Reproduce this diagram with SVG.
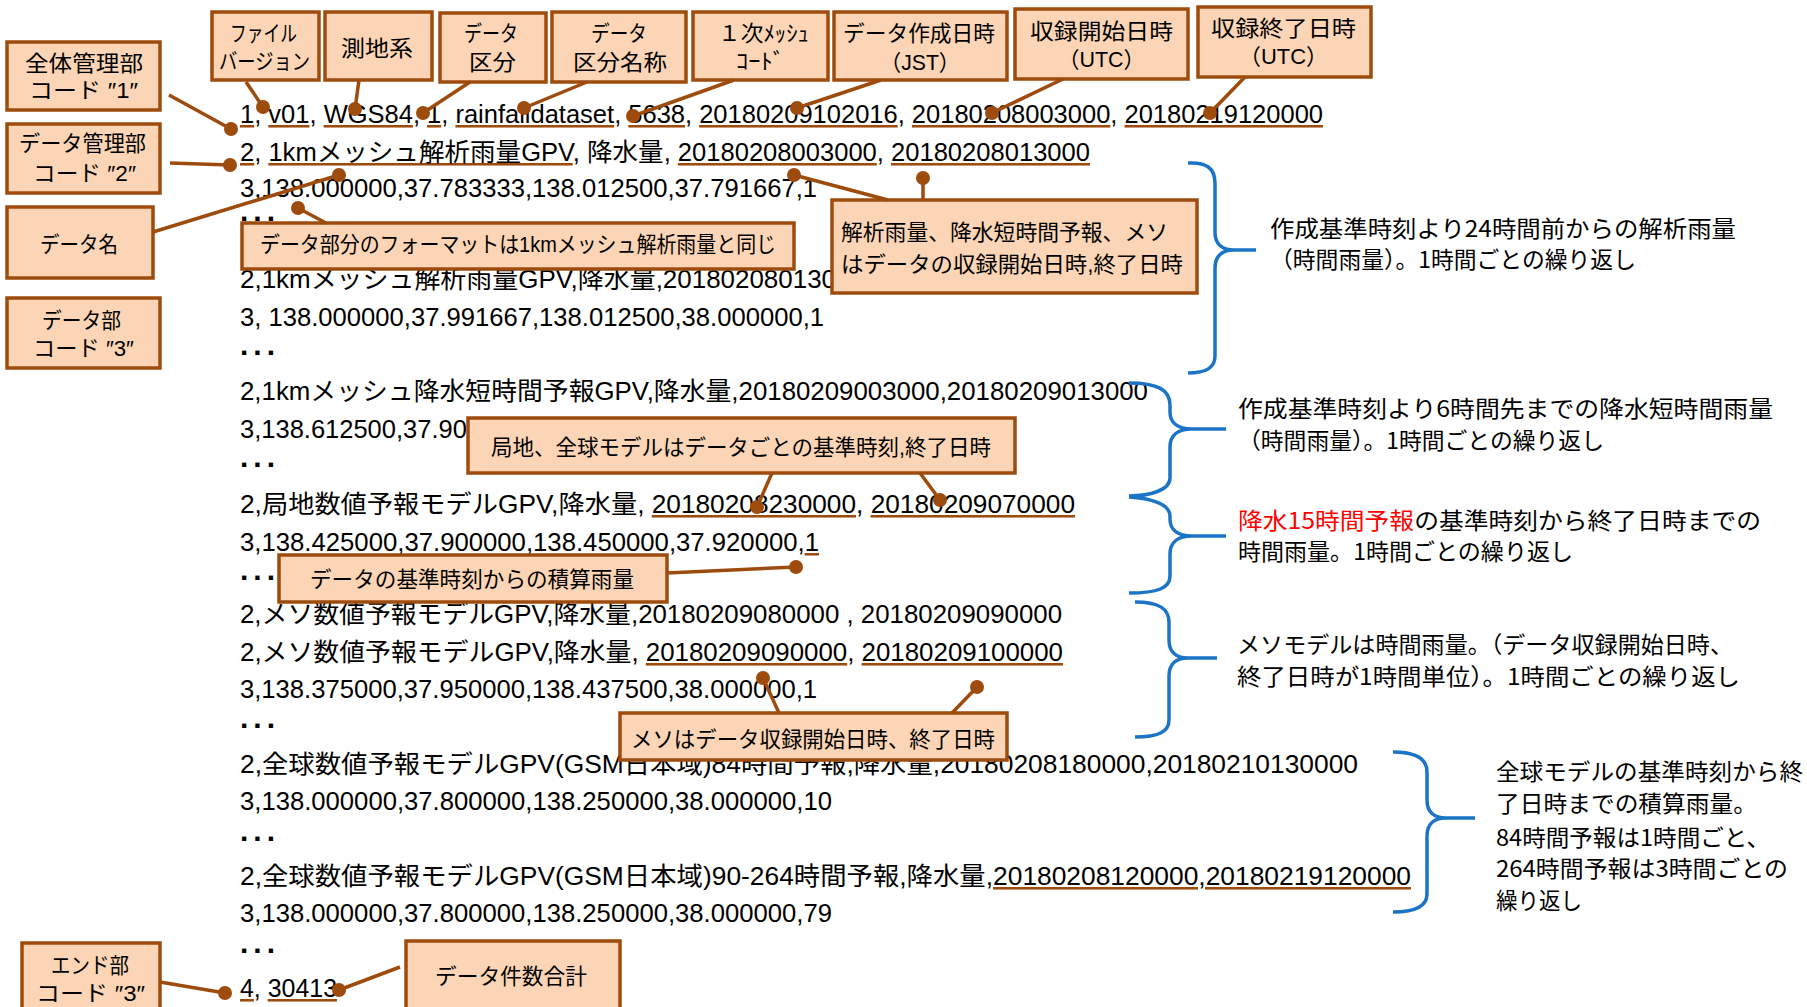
<svg xmlns="http://www.w3.org/2000/svg" width="1807" height="1007" viewBox="0 0 1807 1007">
<style>
.code{font-family:"Liberation Sans","Noto Sans CJK JP",sans-serif;font-size:25.5px;fill:#000}
.u{fill:#9E4B0E;text-decoration:underline}
.u>tspan{fill:#000}
.dots{font-family:"Liberation Sans",sans-serif;font-weight:bold;font-size:30px;letter-spacing:5px;fill:#000}
.note{font-family:"Noto Sans CJK JP",sans-serif;font-size:23px;fill:#000}
.red{fill:#FF0000}
.box{fill:#FBD5B5;stroke:#9E4B0E;stroke-width:3.5}
.bt{font-family:"Liberation Sans","Noto Sans CJK JP",sans-serif;font-size:22px;fill:#000}
.con line{stroke:#9E4B0E;stroke-width:3.5}
.con circle{fill:#9E4B0E}
.brace{fill:none;stroke:#1B74C6;stroke-width:3.5}
</style>

<g id="code-lines">
<text class="code" x="240" y="123" textLength="1083" lengthAdjust="spacingAndGlyphs"><tspan class="u"><tspan>1</tspan></tspan>, <tspan class="u"><tspan>v01</tspan></tspan>, <tspan class="u"><tspan>WGS84</tspan></tspan>, <tspan class="u"><tspan>1</tspan></tspan>, <tspan class="u"><tspan>rainfalldataset</tspan></tspan>, <tspan class="u"><tspan>5638</tspan></tspan>, <tspan class="u"><tspan>20180209102016</tspan></tspan>, <tspan class="u"><tspan>20180208003000</tspan></tspan>, <tspan class="u"><tspan>20180219120000</tspan></tspan></text>
<text class="code" x="240" y="161" textLength="850" lengthAdjust="spacingAndGlyphs"><tspan class="u"><tspan>2</tspan></tspan>, <tspan class="u"><tspan>1kmメッシュ解析雨量GPV</tspan></tspan>, 降水量, <tspan class="u"><tspan>20180208003000</tspan></tspan>, <tspan class="u"><tspan>20180208013000</tspan></tspan></text>
<text class="code" x="240" y="197" textLength="577" lengthAdjust="spacingAndGlyphs">3,138.000000,37.783333,138.012500,37.791667,1</text>
<text class="dots" x="240" y="221">...</text>
<text class="code" x="240" y="288" textLength="596" lengthAdjust="spacingAndGlyphs">2,1kmメッシュ解析雨量GPV,降水量,201802080130</text>
<text class="code" x="240" y="326" textLength="584" lengthAdjust="spacingAndGlyphs">3, 138.000000,37.991667,138.012500,38.000000,1</text>
<text class="dots" x="240" y="355">...</text>
<text class="code" x="240" y="400" textLength="908" lengthAdjust="spacingAndGlyphs">2,1kmメッシュ降水短時間予報GPV,降水量,20180209003000,20180209013000</text>
<text class="code" x="240" y="438">3,138.612500,37.90</text>
<text class="dots" x="240" y="467">...</text>
<text class="code" x="240" y="513" textLength="835" lengthAdjust="spacingAndGlyphs">2,局地数値予報モデルGPV,降水量, <tspan class="u"><tspan>20180208230000</tspan></tspan>, <tspan class="u"><tspan>20180209070000</tspan></tspan></text>
<text class="code" x="240" y="551" textLength="579" lengthAdjust="spacingAndGlyphs">3,138.425000,37.900000,138.450000,37.920000,<tspan class="u"><tspan>1</tspan></tspan></text>
<text class="dots" x="240" y="580">...</text>
<text class="code" x="240" y="623" textLength="822" lengthAdjust="spacingAndGlyphs">2,メソ数値予報モデルGPV,降水量,20180209080000 , 20180209090000</text>
<text class="code" x="240" y="661" textLength="823" lengthAdjust="spacingAndGlyphs">2,メソ数値予報モデルGPV,降水量, <tspan class="u"><tspan>20180209090000</tspan></tspan>, <tspan class="u"><tspan>20180209100000</tspan></tspan></text>
<text class="code" x="240" y="698" textLength="577" lengthAdjust="spacingAndGlyphs">3,138.375000,37.950000,138.437500,38.000000,1</text>
<text class="dots" x="240" y="728">...</text>
<text class="code" x="240" y="773" textLength="1118" lengthAdjust="spacingAndGlyphs">2,全球数値予報モデルGPV(GSM日本域)84時間予報,降水量,20180208180000,20180210130000</text>
<text class="code" x="240" y="810" textLength="592" lengthAdjust="spacingAndGlyphs">3,138.000000,37.800000,138.250000,38.000000,10</text>
<text class="dots" x="240" y="841">...</text>
<text class="code" x="240" y="885" textLength="1171" lengthAdjust="spacingAndGlyphs">2,全球数値予報モデルGPV(GSM日本域)90-264時間予報,降水量,<tspan class="u"><tspan>20180208120000,20180219120000</tspan></tspan></text>
<text class="code" x="240" y="922" textLength="592" lengthAdjust="spacingAndGlyphs">3,138.000000,37.800000,138.250000,38.000000,79</text>
<text class="dots" x="240" y="953">...</text>
<text class="code" x="240" y="997" textLength="97" lengthAdjust="spacingAndGlyphs"><tspan class="u"><tspan>4</tspan></tspan>, <tspan class="u"><tspan>30413</tspan></tspan></text>
</g>

<g id="braces">
<path class="brace" d="M1188,163 C1206,162 1215,168 1215,183 L1215,232 C1215,244 1222,250 1234,250 L1256,250 M1234,250 C1222,250 1215,256 1215,268 L1215,356 C1215,368 1206,373 1188,373"/>
<path class="brace" d="M1129,383 C1158,383 1170,390 1170,405 L1170,412 C1170,423 1178,429 1192,429 L1226,429 M1192,429 C1178,429 1170,435 1170,447 L1170,478 C1170,490 1150,496 1129,496"/>
<path class="brace" d="M1129,497 C1150,498 1170,504 1170,516 L1170,519 C1170,530 1178,536 1192,536 L1226,536 M1192,536 C1178,536 1170,542 1170,554 L1170,576 C1170,588 1158,593 1129,593"/>
<path class="brace" d="M1135,602 C1158,602 1169,608 1169,622 L1169,640 C1169,652 1176,658 1188,658 L1217,658 M1188,658 C1176,658 1169,664 1169,676 L1169,720 C1169,732 1158,737 1135,737"/>
<path class="brace" d="M1393,752 C1415,752 1427,758 1427,772 L1427,800 C1427,812 1434,818 1446,818 L1475,818 M1446,818 C1434,818 1427,824 1427,836 L1427,894 C1427,906 1415,912 1393,912"/>
</g>

<g id="notes">
<text class="note" x="1270" y="237" textLength="466" lengthAdjust="spacingAndGlyphs">作成基準時刻より24時間前からの解析雨量</text>
<text class="note" x="1270" y="268" textLength="366" lengthAdjust="spacingAndGlyphs">（時間雨量）。1時間ごとの繰り返し</text>
<text class="note" x="1238" y="417" textLength="535" lengthAdjust="spacingAndGlyphs">作成基準時刻より6時間先までの降水短時間雨量</text>
<text class="note" x="1238" y="449" textLength="366" lengthAdjust="spacingAndGlyphs">（時間雨量）。1時間ごとの繰り返し</text>
<text class="note" x="1238" y="529" textLength="523" lengthAdjust="spacingAndGlyphs"><tspan class="red">降水15時間予報</tspan>の基準時刻から終了日時までの</text>
<text class="note" x="1238" y="560" textLength="335" lengthAdjust="spacingAndGlyphs">時間雨量。1時間ごとの繰り返し</text>
<text class="note" x="1237" y="653" textLength="496" lengthAdjust="spacingAndGlyphs">メソモデルは時間雨量。（データ収録開始日時、</text>
<text class="note" x="1237" y="685" textLength="503" lengthAdjust="spacingAndGlyphs">終了日時が1時間単位）。1時間ごとの繰り返し</text>
<text class="note" x="1496" y="780" textLength="307" lengthAdjust="spacingAndGlyphs">全球モデルの基準時刻から終</text>
<text class="note" x="1496" y="812" textLength="261" lengthAdjust="spacingAndGlyphs">了日時までの積算雨量。</text>
<text class="note" x="1496" y="846" textLength="274" lengthAdjust="spacingAndGlyphs">84時間予報は1時間ごと、</text>
<text class="note" x="1496" y="877" textLength="292" lengthAdjust="spacingAndGlyphs">264時間予報は3時間ごとの</text>
<text class="note" x="1496" y="909" textLength="86" lengthAdjust="spacingAndGlyphs">繰り返し</text>
</g>

<g id="node-zentai">
<rect class="box" x="7" y="42" width="153" height="68"/>
<text class="bt" x="25" y="71" textLength="118" lengthAdjust="spacingAndGlyphs">全体管理部</text>
<text class="bt" x="29" y="98" textLength="109" lengthAdjust="spacingAndGlyphs">コード ″1″</text>
</g>
<g id="node-datakanri">
<rect class="box" x="7" y="124" width="153" height="69"/>
<text class="bt" x="19" y="151" textLength="127" lengthAdjust="spacingAndGlyphs">データ管理部</text>
<text class="bt" x="33" y="181" textLength="103" lengthAdjust="spacingAndGlyphs">コード ″2″</text>
</g>
<g id="node-datamei">
<rect class="box" x="7" y="207" width="146" height="71"/>
<text class="bt" x="40" y="252" textLength="78" lengthAdjust="spacingAndGlyphs">データ名</text>
</g>
<g id="node-databu">
<rect class="box" x="7" y="298" width="153" height="70"/>
<text class="bt" x="42" y="328" textLength="79" lengthAdjust="spacingAndGlyphs">データ部</text>
<text class="bt" x="33" y="356" textLength="101" lengthAdjust="spacingAndGlyphs">コード ″3″</text>
</g>
<g id="node-endbu">
<rect class="box" x="22" y="943" width="138" height="72"/>
<text class="bt" x="51" y="973" textLength="78" lengthAdjust="spacingAndGlyphs">エンド部</text>
<text class="bt" x="36" y="1001" textLength="109" lengthAdjust="spacingAndGlyphs">コード ″3″</text>
</g>
<g id="node-version">
<rect class="box" x="212" y="12" width="107" height="68"/>
<text class="bt" x="230" y="41" textLength="67" lengthAdjust="spacingAndGlyphs">ファイル</text>
<text class="bt" x="219" y="69" textLength="91" lengthAdjust="spacingAndGlyphs">バージョン</text>
</g>
<g id="node-sokuchi">
<rect class="box" x="325" y="12" width="107" height="68"/>
<text class="bt" x="341" y="56" textLength="72" lengthAdjust="spacingAndGlyphs">測地系</text>
</g>
<g id="node-kubun">
<rect class="box" x="440" y="13" width="106" height="69"/>
<text class="bt" x="464" y="41" textLength="54" lengthAdjust="spacingAndGlyphs">データ</text>
<text class="bt" x="469" y="70" textLength="47" lengthAdjust="spacingAndGlyphs">区分</text>
</g>
<g id="node-kubunmei">
<rect class="box" x="552" y="12" width="134" height="70"/>
<text class="bt" x="591" y="41" textLength="56" lengthAdjust="spacingAndGlyphs">データ</text>
<text class="bt" x="573" y="70" textLength="94" lengthAdjust="spacingAndGlyphs">区分名称</text>
</g>
<g id="node-mesh">
<rect class="box" x="693" y="12" width="135" height="68"/>
<text class="bt" x="718" y="41" textLength="91" lengthAdjust="spacingAndGlyphs">１次ﾒｯｼｭ</text>
<text class="bt" x="736" y="69" textLength="49" lengthAdjust="spacingAndGlyphs">ｺｰﾄﾞ</text>
</g>
<g id="node-sakusei">
<rect class="box" x="834" y="12" width="173" height="68"/>
<text class="bt" x="843" y="41" textLength="152" lengthAdjust="spacingAndGlyphs">データ作成日時</text>
<text class="bt" x="880" y="70" textLength="80" lengthAdjust="spacingAndGlyphs">（JST）</text>
</g>
<g id="node-kaishi">
<rect class="box" x="1015" y="9" width="173" height="70"/>
<text class="bt" x="1030" y="39" textLength="143" lengthAdjust="spacingAndGlyphs">収録開始日時</text>
<text class="bt" x="1058" y="67" textLength="87" lengthAdjust="spacingAndGlyphs">（UTC）</text>
</g>
<g id="node-shuryo">
<rect class="box" x="1198" y="7" width="173" height="70"/>
<text class="bt" x="1211" y="36" textLength="145" lengthAdjust="spacingAndGlyphs">収録終了日時</text>
<text class="bt" x="1239" y="64" textLength="89" lengthAdjust="spacingAndGlyphs">（UTC）</text>
</g>
<g id="node-format">
<rect class="box" x="242" y="223" width="552" height="46"/>
<text class="bt" x="260" y="252" textLength="516" lengthAdjust="spacingAndGlyphs">データ部分のフォーマットは1kmメッシュ解析雨量と同じ</text>
</g>
<g id="node-kaiseki">
<rect class="box" x="832" y="200" width="365" height="93"/>
<text class="bt" x="841" y="240" textLength="327" lengthAdjust="spacingAndGlyphs">解析雨量、降水短時間予報、メソ</text>
<text class="bt" x="841" y="272" textLength="342" lengthAdjust="spacingAndGlyphs">はデータの収録開始日時,終了日時</text>
</g>
<g id="node-kyokuchi">
<rect class="box" x="468" y="418" width="547" height="55"/>
<text class="bt" x="491" y="455" textLength="500" lengthAdjust="spacingAndGlyphs">局地、全球モデルはデータごとの基準時刻,終了日時</text>
</g>
<g id="node-sekisan">
<rect class="box" x="279" y="555" width="388" height="47"/>
<text class="bt" x="310" y="587" textLength="324" lengthAdjust="spacingAndGlyphs">データの基準時刻からの積算雨量</text>
</g>
<g id="node-meso">
<rect class="box" x="620" y="713" width="387" height="47"/>
<text class="bt" x="631" y="747" textLength="364" lengthAdjust="spacingAndGlyphs">メソはデータ収録開始日時、終了日時</text>
</g>
<g id="node-kensu">
<rect class="box" x="406" y="941" width="214" height="74"/>
<text class="bt" x="435" y="984" textLength="152" lengthAdjust="spacingAndGlyphs">データ件数合計</text>
</g>

<g id="connectors" class="con">
<line x1="169" y1="95" x2="231" y2="129"/><circle cx="231" cy="129" r="7"/>
<line x1="170" y1="163" x2="230" y2="165"/><circle cx="230" cy="165" r="7"/>
<line x1="153" y1="232" x2="339" y2="175"/><circle cx="339" cy="175" r="7"/>
<line x1="246" y1="82" x2="263" y2="107"/><circle cx="263" cy="107" r="7"/>
<line x1="359" y1="80" x2="355" y2="109"/><circle cx="355" cy="109" r="7"/>
<line x1="470" y1="82" x2="423" y2="113"/><circle cx="423" cy="113" r="7"/>
<line x1="587" y1="82" x2="524" y2="108"/><circle cx="524" cy="108" r="7"/>
<line x1="734" y1="80" x2="633" y2="116"/><circle cx="633" cy="116" r="7"/>
<line x1="881" y1="80" x2="797" y2="108"/><circle cx="797" cy="108" r="7"/>
<line x1="1063" y1="79" x2="992" y2="113"/><circle cx="992" cy="113" r="7"/>
<line x1="1245" y1="77" x2="1210" y2="113"/><circle cx="1210" cy="113" r="7"/>
<line x1="326" y1="223" x2="298" y2="208"/><circle cx="298" cy="208" r="7"/>
<line x1="888" y1="200" x2="794" y2="175"/><circle cx="794" cy="175" r="7"/>
<line x1="923" y1="200" x2="923" y2="178"/><circle cx="923" cy="178" r="7"/>
<line x1="772" y1="473" x2="757" y2="507"/><circle cx="757" cy="507" r="7"/>
<line x1="920" y1="473" x2="940" y2="500"/><circle cx="940" cy="500" r="7"/>
<line x1="667" y1="573" x2="796" y2="567"/><circle cx="796" cy="567" r="7"/>
<line x1="779" y1="713" x2="763" y2="678"/><circle cx="763" cy="678" r="7"/>
<line x1="952" y1="713" x2="977" y2="687"/><circle cx="977" cy="687" r="7"/>
<line x1="160" y1="982" x2="225" y2="993"/><circle cx="225" cy="993" r="7"/>
<line x1="400" y1="967" x2="339" y2="990"/><circle cx="339" cy="990" r="7"/>
</g>
</svg>
